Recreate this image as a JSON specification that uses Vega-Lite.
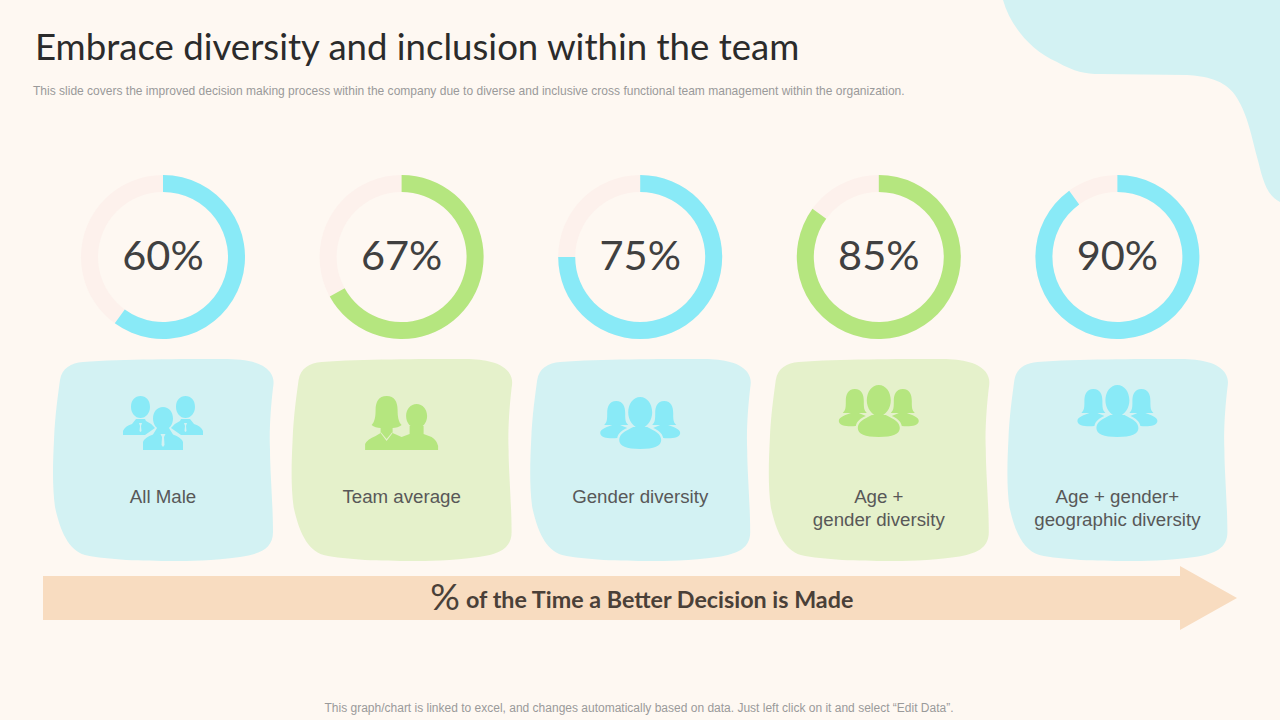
{
"$schema":"https://vega.github.io/schema/vega-lite/v6.json",
"width":1280,"height":720,"padding":0,
"autosize":{"type":"fit","contains":"padding"},
"background":"#FEF8F2",
"view":{"stroke":null},
"data":{"values":[
{"category":"All Male","label":"All Male","share":0.60},
{"category":"Team average","label":"Team average","share":0.67},
{"category":"Gender diversity","label":"Gender diversity","share":0.75},
{"category":"Age + gender diversity","label":"Age +\ngender diversity","share":0.85},
{"category":"Age + gender + geographic diversity","label":"Age + gender+\ngeographic diversity","share":0.90}
]},
"encoding":{"x":{"field":"category","type":"nominal","sort":null,"axis":null,"scale":{"type":"point","padding":0,"range":[163,1117.4],"domain":["All Male","Team average","Gender diversity","Age + gender diversity","Age + gender + geographic diversity"]}}},
"resolve":{"scale":{"color":"independent"}},
"layer":[
{"data":{"values":[{"part":"corner"}]},
 "mark":{"type":"point","filled":true,"opacity":1,"size":4,"color":"#D3F2F3","shape":"M1003,0 C1010,25 1030,50 1057,62 C1075,72 1085,74 1100,74 L1187,75 C1205,76 1225,80 1235,95 C1247,113 1250,130 1257,157 C1262,175 1265,195 1280,202 L1280,0 Z"},
 "encoding":{"x":{"value":0},"y":{"value":0}}},
{"data":{"values":[{"part":"arrow"}]},
 "mark":{"type":"point","filled":true,"opacity":1,"size":4,"color":"#F8DCC0","shape":"M43,576 L1180,576 L1180,566 L1237,598 L1180,630 L1180,620 L43,620 Z"},
 "encoding":{"x":{"value":0},"y":{"value":0}}},
{"mark":{"type":"arc","radius":82,"radius2":65,"theta":0,"theta2":6.28319,"color":"#FDF1EC"},
 "encoding":{"y":{"value":257}}},
{"mark":{"type":"arc","radius":82,"radius2":65,"theta2":0},
 "encoding":{"y":{"value":257},
  "theta":{"field":"share","type":"quantitative","stack":null,"scale":{"domain":[0,1],"range":[0,6.28319]}},
  "color":{"field":"category","type":"nominal","legend":null,"sort":null,"scale":{"domain":["All Male","Team average","Gender diversity","Age + gender diversity","Age + gender + geographic diversity"],"range":["#89EAF7","#B5E67F","#89EAF7","#B5E67F","#89EAF7"]}}}},
{"mark":{"type":"text","font":"Lato","fontSize":41.5,"color":"#404040","align":"center","baseline":"alphabetic"},
 "encoding":{"y":{"value":270},"text":{"field":"share","type":"quantitative","format":".0%"}}},
{"mark":{"type":"point","filled":true,"opacity":1,"size":4,"shape":"M-80,-98 C-40,-101 20,-101 60,-101 C80,-101 98,-99 107,-88 C111,-82 111,-78 110,-72 C108,-55 106,-30 107,-10 C107,10 110,45 110,72 C110,88 98,94 77,97 C50,101 25,101 10,101 C-20,101 -55,100 -78,95 C-95,90 -103,70 -108,47 C-111,25 -110,0 -109,-20 C-108,-45 -105,-65 -103,-80 C-101,-92 -92,-97 -80,-98 Z"},
 "encoding":{"y":{"value":460},
  "color":{"field":"category","type":"nominal","legend":null,"sort":null,"scale":{"domain":["All Male","Team average","Gender diversity","Age + gender diversity","Age + gender + geographic diversity"],"range":["#D3F2F3","#E5F1CB","#D3F2F3","#E5F1CB","#D3F2F3"]}}}},
{"mark":{"type":"point","filled":true,"opacity":1,"size":4},
 "encoding":{"y":{"value":420},
  "color":{"field":"category","type":"nominal","legend":null,"sort":null,"scale":{"domain":["All Male","Team average","Gender diversity","Age + gender diversity","Age + gender + geographic diversity"],"range":["#89EAF7","#B5E67F","#89EAF7","#B5E67F","#89EAF7"]}},
  "shape":{"field":"category","type":"nominal","legend":null,"sort":null,"scale":{"domain":["All Male","Team average","Gender diversity","Age + gender diversity","Age + gender + geographic diversity"],"range":[
"M-32,-13 C-32,-20 -28,-24 -22.5,-24 C-17,-24 -13,-20 -13,-13 C-13,-7 -17,-2 -22.5,-2 C-28,-2 -32,-7 -32,-13 Z M-40,15 L-40,11 Q-38,6 -31,4 L-27,-1 L-18,-1 L-17,1 Q-12,3 -8,8 L-18,15 Z M-24,3 L-23,6 L-23.5,11 L-22.5,12 L-21.5,11 L-22,6 L-21,3 Z M13,-13 C13,-20 17,-24 22.5,-24 C28,-24 32,-20 32,-13 C32,-7 28,-2 22.5,-2 C17,-2 13,-7 13,-13 Z M8,8 Q12,3 17,1 L18,-1 L27,-1 L31,4 Q38,6 40,11 L40,15 L18,15 Z M21,3 L22,6 L21.5,11 L22.5,12 L23.5,11 L23,6 L24,3 Z M-10,-1.5 C-10,-8 -6,-13 0,-13 C6,-13 10,-8 10,-1.5 C10,5 6,10 0,10 C-6,10 -10,5 -10,-1.5 Z M-20,30 L-20,22 Q-18,17 -10,14.5 L-6,8 L6,8 L10,14.5 Q18,17 20,22 L20,30 Z M-2.5,14 L-1,17 L-1.5,25 L0,27 L1.5,25 L1,17 L2.5,14 Z",
"M-15,-24 C-7,-24 -4,-18 -4,-10 C-4,-3 -3,2 0,5 C-2,7 -6,8 -9,8 L-21,8 C-24,8 -28,7 -30,5 C-27,2 -26,-3 -26,-10 C-26,-18 -23,-24 -15,-24 Z M4.5,-4 C4.5,-11 9,-16 15,-16 C21,-16 25.5,-11 25.5,-4 C25.5,3 21,8 15,8 C9,8 4.5,3 4.5,-4 Z M-36.5,30 L-36.5,24 Q-34,19 -26,16 L-21,13 L-21,6 L-9,6 L-9,13 L0,17 L8,14 L8,6 L22,6 L22,14 L30,17 Q35,20 36.5,26 L36.5,30 Z M-21,13 L-15,21 L-9,13 L-9.6,12.5 L-15,19 L-20.4,12.5 Z",
"M-12,-7.5 C-12,-16 -7,-23 0,-23 C7,-23 12,-16 12,-7.5 C12,0 7,8 0,8 C-7,8 -12,0 -12,-7.5 Z M-21,20 C-21,14 -15,11 -7,7 L7,7 C15,11 21,14 21,20 C21,26 14,29 0,29 C-14,29 -21,26 -21,20 Z M-24,-19 C-17,-19 -15,-13 -15,-7 C-15,-1 -15,2 -12,5 L-36,5 C-33,2 -33,-1 -33,-7 C-33,-13 -31,-19 -24,-19 Z M-40,13 C-40,9 -33,7 -28,5 L-20,5 C-18,6 -15,7 -13,8 C-18,10 -22,13 -23,18 C-30,19 -40,18 -40,13 Z M24,-19 C31,-19 33,-13 33,-7 C33,-1 33,2 36,5 L12,5 C15,2 15,-1 15,-7 C15,-13 17,-19 24,-19 Z M13,8 C15,7 18,6 20,5 L28,5 C33,7 40,9 40,13 C40,18 30,19 23,18 C22,13 18,10 13,8 Z",
"M-12,-19.5 C-12,-28 -7,-35 0,-35 C7,-35 12,-28 12,-19.5 C12,-12 7,-4 0,-4 C-7,-4 -12,-12 -12,-19.5 Z M-21,8 C-21,2 -15,-1 -7,-5 L7,-5 C15,-1 21,2 21,8 C21,14 14,17 0,17 C-14,17 -21,14 -21,8 Z M-24,-31 C-17,-31 -15,-25 -15,-19 C-15,-13 -15,-10 -12,-7 L-36,-7 C-33,-10 -33,-13 -33,-19 C-33,-25 -31,-31 -24,-31 Z M-40,1 C-40,-3 -33,-5 -28,-7 L-20,-7 C-18,-6 -15,-5 -13,-4 C-18,-2 -22,1 -23,6 C-30,7 -40,6 -40,1 Z M24,-31 C31,-31 33,-25 33,-19 C33,-13 33,-10 36,-7 L12,-7 C15,-10 15,-13 15,-19 C15,-25 17,-31 24,-31 Z M13,-4 C15,-5 18,-6 20,-7 L28,-7 C33,-5 40,-3 40,1 C40,6 30,7 23,6 C22,1 18,-2 13,-4 Z",
"M-12,-19.5 C-12,-28 -7,-35 0,-35 C7,-35 12,-28 12,-19.5 C12,-12 7,-4 0,-4 C-7,-4 -12,-12 -12,-19.5 Z M-21,8 C-21,2 -15,-1 -7,-5 L7,-5 C15,-1 21,2 21,8 C21,14 14,17 0,17 C-14,17 -21,14 -21,8 Z M-24,-31 C-17,-31 -15,-25 -15,-19 C-15,-13 -15,-10 -12,-7 L-36,-7 C-33,-10 -33,-13 -33,-19 C-33,-25 -31,-31 -24,-31 Z M-40,1 C-40,-3 -33,-5 -28,-7 L-20,-7 C-18,-6 -15,-5 -13,-4 C-18,-2 -22,1 -23,6 C-30,7 -40,6 -40,1 Z M24,-31 C31,-31 33,-25 33,-19 C33,-13 33,-10 36,-7 L12,-7 C15,-10 15,-13 15,-19 C15,-25 17,-31 24,-31 Z M13,-4 C15,-5 18,-6 20,-7 L28,-7 C33,-5 40,-3 40,1 C40,6 30,7 23,6 C22,1 18,-2 13,-4 Z"
]}}}},
{"mark":{"type":"text","font":"Liberation Sans","fontSize":18.7,"color":"#585858","align":"center","baseline":"alphabetic","lineBreak":"\n","lineHeight":23},
 "encoding":{"y":{"value":503},"text":{"field":"label","type":"nominal"}}},
{"data":{"values":[{"t":"Embrace diversity and inclusion within the team"}]},
 "mark":{"type":"text","font":"Lato","fontSize":36.6,"color":"#2B2B2B","align":"left","baseline":"alphabetic"},
 "encoding":{"x":{"value":35},"y":{"value":60},"text":{"field":"t","type":"nominal"}}},
{"data":{"values":[{"t":"This slide covers the improved decision making process within the company due to diverse and inclusive cross functional team management within the organization."}]},
 "mark":{"type":"text","font":"Liberation Sans","fontSize":12.03,"color":"#9A9A9A","align":"left","baseline":"alphabetic"},
 "encoding":{"x":{"value":33},"y":{"value":94.5},"text":{"field":"t","type":"nominal"}}},
{"data":{"values":[{"t":"%"}]},
 "mark":{"type":"text","font":"Lato","fontSize":37,"color":"#4A4038","align":"center","baseline":"alphabetic"},
 "encoding":{"x":{"value":445},"y":{"value":610},"text":{"field":"t","type":"nominal"}}},
{"data":{"values":[{"t":"of the Time a Better Decision is Made"}]},
 "mark":{"type":"text","font":"Lato","fontSize":23.3,"fontWeight":"bold","color":"#4A4038","align":"left","baseline":"alphabetic"},
 "encoding":{"x":{"value":466},"y":{"value":608},"text":{"field":"t","type":"nominal"}}},
{"data":{"values":[{"t":"This graph/chart is linked to excel,  and changes automatically based on data. Just left click on it and select “Edit Data”."}]},
 "mark":{"type":"text","font":"Liberation Sans","fontSize":12,"color":"#9A9A9A","align":"center","baseline":"alphabetic"},
 "encoding":{"x":{"value":639},"y":{"value":712},"text":{"field":"t","type":"nominal"}}}
]
}
